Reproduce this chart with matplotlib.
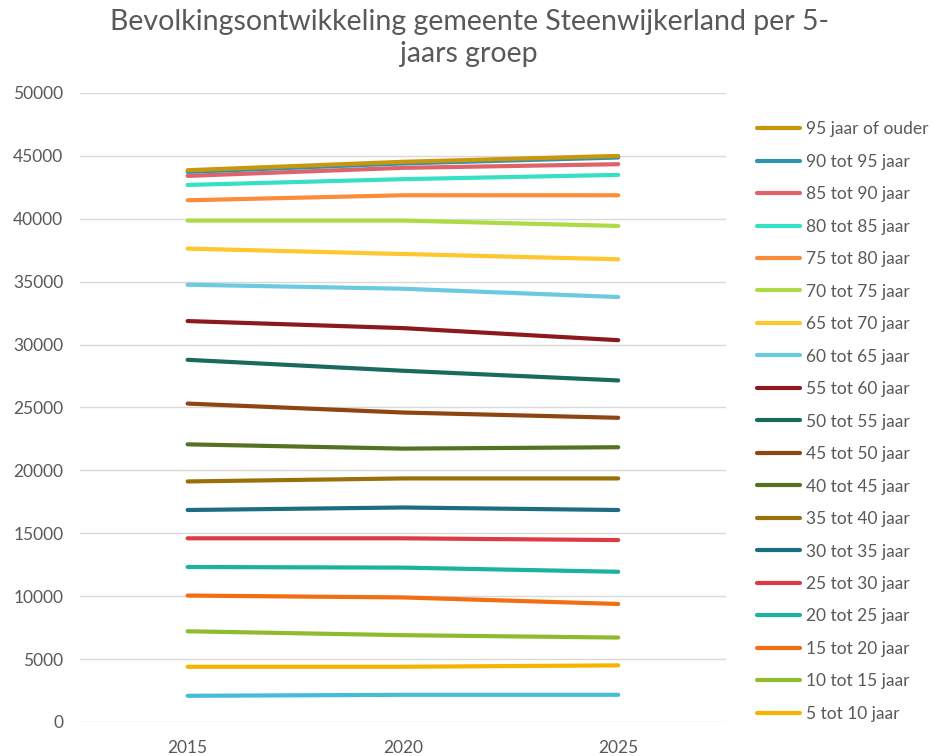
import matplotlib as mpl
from matplotlib import pyplot as plt
import numpy as np

mpl.rcParams.update({'font.family': 'Lato', 'font.size': 12.5})

years = ['2015', '2020', '2025']

# inwoners per leeftijdsgroep (jongste groep eerst), per jaar
groups = ['0 tot 5 jaar', '5 tot 10 jaar', '10 tot 15 jaar', '15 tot 20 jaar',
          '20 tot 25 jaar', '25 tot 30 jaar', '30 tot 35 jaar', '35 tot 40 jaar',
          '40 tot 45 jaar', '45 tot 50 jaar', '50 tot 55 jaar', '55 tot 60 jaar',
          '60 tot 65 jaar', '65 tot 70 jaar', '70 tot 75 jaar', '75 tot 80 jaar',
          '80 tot 85 jaar', '85 tot 90 jaar', '90 tot 95 jaar', '95 jaar of ouder']
counts = [
    [2080, 2160, 2160],
    [2310, 2230, 2340],
    [2820, 2510, 2210],
    [2840, 3000, 2670],
    [2270, 2370, 2560],
    [2280, 2330, 2520],
    [2250, 2450, 2390],
    [2270, 2310, 2510],
    [2950, 2370, 2480],
    [3240, 2870, 2340],
    [3480, 3320, 2970],
    [3080, 3390, 3200],
    [2890, 3130, 3430],
    [2870, 2760, 3000],
    [2230, 2660, 2650],
    [1610, 2010, 2440],
    [1220, 1280, 1620],
    [720, 900, 850],
    [320, 350, 530],
    [130, 130, 130],
]
colors = ['#45BDD6', '#F6B400', '#90BB2E', '#F26E12', '#1BB29E', '#DD3B43',
          '#1C6D82', '#9A700A', '#557220', '#8F4412', '#1A6B5E', '#8B1A1E',
          '#6CCAE0', '#FFC62E', '#ADDB45', '#F98D39', '#35E0C5', '#E0636B',
          '#2E93AE', '#C9960C']

TEXT = '#595959'

fig = plt.figure(figsize=(9.33, 7.56), dpi=100)
ax = fig.add_axes([0.0857, 0.045, 0.6923, 0.832])

# gestapelde lijnen
stacked = np.cumsum(np.array(counts), axis=0)
x = np.arange(len(years))
handles = []
for i, (name, color) in enumerate(zip(groups, colors)):
    line, = ax.plot(x, stacked[i], color=color, lw=3, solid_capstyle='round',
                    zorder=3 + i)
    handles.append(line)

ax.set_xlim(-0.5, len(years) - 0.5)
ax.set_ylim(0, 50000)
ax.set_xticks(x)
ax.set_xticklabels(years)
ax.set_yticks(np.arange(0, 50001, 5000))
ax.yaxis.grid(True, color='#D9D9D9', lw=1)
ax.set_axisbelow(True)
for s in ax.spines.values():
    s.set_visible(False)
ax.tick_params(length=0, colors=TEXT, labelsize=12.5)
ax.tick_params(axis='y', pad=12)
ax.tick_params(axis='x', pad=13)

fig.suptitle('Bevolkingsontwikkeling gemeente Steenwijkerland per 5-\njaars groep',
             x=0.503, y=0.988, va='top', fontsize=20.5, color=TEXT,
             linespacing=1.3)

# legenda: oudste groep bovenaan, jongste valt buiten beeld
leg = fig.legend(handles[1:][::-1], groups[1:][::-1], loc='upper left',
                 bbox_to_anchor=(0.804, 0.849), frameon=False, fontsize=12.5,
                 handlelength=2.5, handletextpad=0.3, labelspacing=0.95,
                 borderaxespad=0)
for t in leg.get_texts():
    t.set_color(TEXT)

fig.savefig('out.png', dpi=100)
